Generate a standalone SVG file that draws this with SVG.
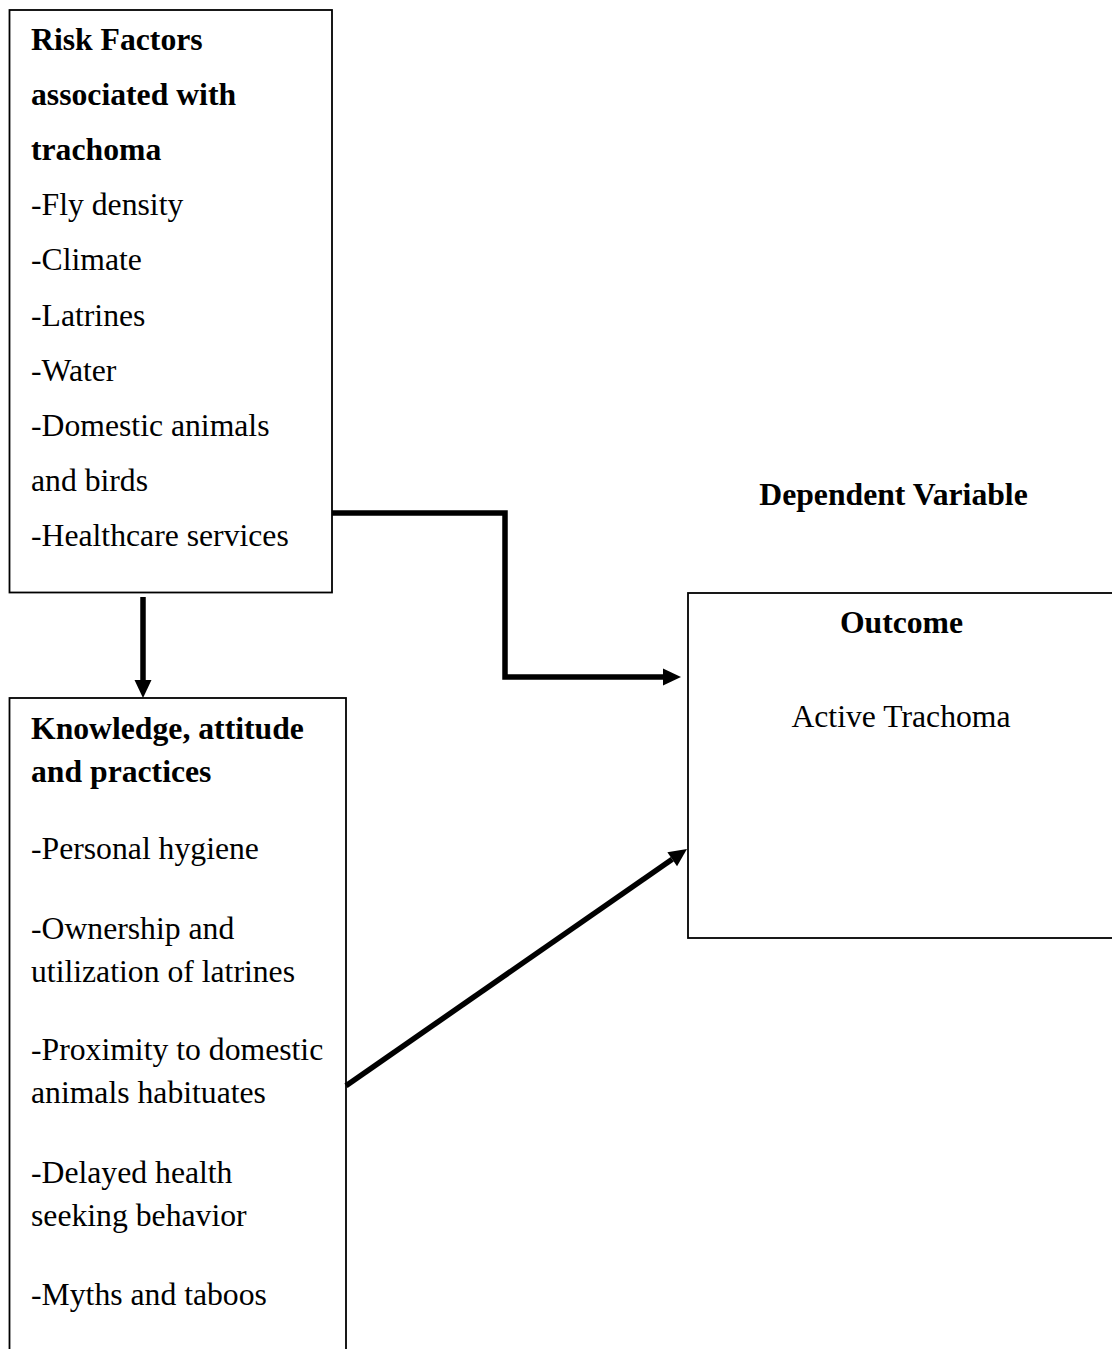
<svg xmlns="http://www.w3.org/2000/svg" width="1112" height="1349" viewBox="0 0 1112 1349">
<style>
.box{fill:#fff;stroke:#000;stroke-width:1.8}
.t{font-family:"Liberation Serif","Times New Roman",serif;font-size:31.7px;fill:#000}
.b{font-weight:bold}
.c{text-anchor:middle}
.con{fill:none;stroke:#000;stroke-width:5.5}
</style>
<defs>
<marker id="ah" markerUnits="userSpaceOnUse" markerWidth="20" markerHeight="18" refX="0" refY="8.5" orient="auto" overflow="visible">
<path d="M0,0 L18,8.5 L0,17 z" fill="#000"/>
</marker>
</defs>
<rect width="1112" height="1349" fill="#fff"/>
<g id="risk-factors">
<rect class="box" x="9.5" y="10" width="322.5" height="582.5"/>
<text class="t b" x="31" y="50">Risk Factors</text>
<text class="t b" x="31" y="105">associated with</text>
<text class="t b" x="31" y="160">trachoma</text>
<text class="t" x="31" y="215">-Fly density</text>
<text class="t" x="31" y="270">-Climate</text>
<text class="t" x="31" y="325.5">-Latrines</text>
<text class="t" x="31" y="380.5">-Water</text>
<text class="t" x="31" y="435.5">-Domestic animals</text>
<text class="t" x="31" y="490.5">and birds</text>
<text class="t" x="31" y="546">-Healthcare services</text>
</g>
<g id="kap">
<rect class="box" x="9.5" y="698" width="336.5" height="700"/>
<text class="t b" x="31" y="739">Knowledge, attitude</text>
<text class="t b" x="31" y="782">and practices</text>
<text class="t" x="31" y="859">-Personal hygiene</text>
<text class="t" x="31" y="939">-Ownership and</text>
<text class="t" x="31" y="982">utilization of latrines</text>
<text class="t" x="31" y="1060">-Proximity to domestic</text>
<text class="t" x="31" y="1103">animals habituates</text>
<text class="t" x="31" y="1183">-Delayed health</text>
<text class="t" x="31" y="1226">seeking behavior</text>
<text class="t" x="31" y="1305">-Myths and taboos</text>
</g>
<g id="dependent-variable">
<text class="t b c" x="893.5" y="505">Dependent Variable</text>
</g>
<g id="outcome">
<rect class="box" x="688" y="593" width="460" height="345"/>
<text class="t b c" x="901.5" y="632.5">Outcome</text>
<text class="t c" x="901" y="726.5">Active Trachoma</text>
</g>
<g id="connectors">
<polyline class="con" points="332,513 505,513 505,677 663,677" marker-end="url(#ah)"/>
<line class="con" x1="143" y1="597" x2="143" y2="680" marker-end="url(#ah)"/>
<line class="con" x1="346" y1="1085.7" x2="672.2" y2="859.3" marker-end="url(#ah)"/>
</g>
</svg>
